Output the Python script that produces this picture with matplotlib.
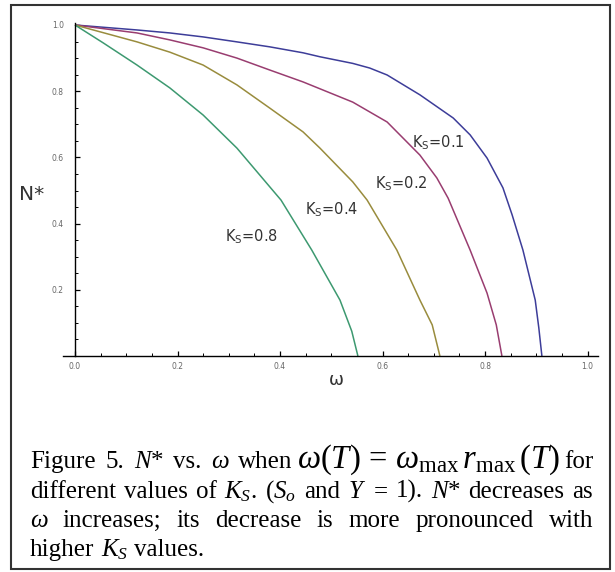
import numpy as np
import matplotlib
matplotlib.use("Agg")
import matplotlib.pyplot as plt
from matplotlib.patches import Rectangle

plt.rcParams['mathtext.fontset'] = 'custom'
plt.rcParams['mathtext.rm'] = 'Liberation Serif'
plt.rcParams['mathtext.it'] = 'Liberation Serif:italic'
plt.rcParams['mathtext.bf'] = 'Liberation Serif:bold'

# curves (omega, N*)
w_01 = [0, 0.121, 0.185, 0.250, 0.316, 0.380, 0.445, 0.478, 0.542, 0.575, 0.609, 0.673, 0.738, 0.771, 0.804, 0.835, 0.853, 0.874, 0.898, 0.905, 0.911]
n_01 = [1, 0.985, 0.976, 0.964, 0.949, 0.934, 0.916, 0.904, 0.884, 0.870, 0.849, 0.789, 0.719, 0.668, 0.598, 0.508, 0.426, 0.320, 0.169, 0.085, 0]

w_02 = [0, 0.121, 0.185, 0.250, 0.316, 0.380, 0.445, 0.542, 0.609, 0.673, 0.706, 0.728, 0.771, 0.804, 0.822, 0.833]
n_02 = [1, 0.976, 0.955, 0.931, 0.900, 0.864, 0.828, 0.767, 0.707, 0.607, 0.538, 0.477, 0.320, 0.190, 0.094, 0]

w_04 = [0, 0.121, 0.185, 0.250, 0.316, 0.380, 0.445, 0.478, 0.542, 0.570, 0.628, 0.673, 0.697, 0.712]
n_04 = [1, 0.949, 0.918, 0.879, 0.819, 0.749, 0.677, 0.628, 0.526, 0.471, 0.320, 0.169, 0.094, 0]

w_08 = [0, 0.055, 0.121, 0.185, 0.250, 0.316, 0.402, 0.462, 0.517, 0.540, 0.552]
n_08 = [1, 0.946, 0.879, 0.810, 0.728, 0.628, 0.471, 0.320, 0.169, 0.075, 0]

curves = [
    (w_01, n_01, (0.24, 0.24, 0.6), "0.1", (0.658, 0.644)),
    (w_02, n_02, (0.6, 0.24, 0.44), "0.2", (0.585, 0.520)),
    (w_04, n_04, (0.6, 0.55, 0.24), "0.4", (0.449, 0.441)),
    (w_08, n_08, (0.24, 0.6, 0.44), "0.8", (0.293, 0.360)),
]

W, H = 615, 572
def fx(px):
    return px / W
def fy(py):
    return 1 - py / H

fig = plt.figure(figsize=(W / 100, H / 100), dpi=100)
fig.patch.set_facecolor("white")

# outer box
fig.add_artist(Rectangle((fx(11), fy(569)), (610 - 11) / W, (569 - 5) / H,
                         transform=fig.transFigure, fill=False, lw=1.5, ec="#333333"))

ax = fig.add_axes([fx(63), fy(356), (598 - 63) / W, 333 / H])
ax.set_xlim(-12 / 512.5, 523 / 512.5)
ax.set_ylim(0, 333 / 331)

for w, n, c, k, pos in curves:
    ax.plot(w, n, color=c, lw=1.1, solid_capstyle="butt")
    ax.text(pos[0], pos[1], r"K$\mathregular{_S}$=" + k, fontsize=10.5, color="#333333",
            ha="left", va="center")

ax.spines["top"].set_visible(False)
ax.spines["right"].set_visible(False)
ax.spines["left"].set_position(("data", 0))
ax.spines["left"].set_linewidth(1.0)
ax.spines["bottom"].set_linewidth(1.0)

ax.set_xticks(np.arange(0, 1.01, 0.2))
ax.set_xticks(np.arange(0, 1.01, 0.05), minor=True)
ax.set_yticks(np.arange(0.2, 1.01, 0.2))
ax.set_yticks(np.arange(0.05, 1.01, 0.05), minor=True)
ax.set_xticklabels(["%.1f" % v for v in np.arange(0, 1.01, 0.2)])
ax.set_yticklabels(["%.1f" % v for v in np.arange(0.2, 1.01, 0.2)])
ax.tick_params(axis="both", which="major", direction="in", length=3.5, width=0.9,
               labelsize=5.5, labelcolor="#666666")
ax.tick_params(axis="both", which="minor", direction="in", length=2, width=0.7)
ax.tick_params(axis="x", pad=4)
ax.tick_params(axis="y", pad=8)

fig.text(fx(32), fy(195), "N*", fontsize=14.5, color="#333333", ha="center", va="center")
fig.text(fx(336), fy(380), "ω", fontsize=13, color="#333333", ha="center", va="center")

# caption, justified like the reference
cap_size = 18
eq = r"$\omega(T)\,=\,\omega_{\mathrm{max}}\,r_{\mathrm{max}}\,(T)$"
cap_lines = [
    [("Figure", "rm"), ("5.", "rm"), ("$N$*", "rm"), ("vs.", "rm"), ("ω", "it"),
     ("when", "rm"), (eq, "eq"), ("for", "rm")],
    [("different", "rm"), ("values", "rm"), ("of", "rm"), ("$K_S$.", "rm"), ("($S_o$", "rm"),
     ("and", "rm"), ("$Y$", "rm"), ("=", "rm"), ("1).", "rm"), ("$N$*", "rm"),
     ("decreases", "rm"), ("as", "rm")],
    [("ω", "it"), ("increases;", "rm"), ("its", "rm"), ("decrease", "rm"), ("is", "rm"),
     ("more", "rm"), ("pronounced", "rm"), ("with", "rm")],
    [("higher", "rm"), ("$K_S$", "rm"), ("values.", "rm")],
]
baselines = [468, 498, 527, 556]
x_left, x_right = 30, 593

renderer = fig.canvas.get_renderer()
for i, (words, yb) in enumerate(zip(cap_lines, baselines)):
    arts = []
    for s, kind in words:
        kw = dict(family="Liberation Serif", fontsize=cap_size, color="black", va="baseline", ha="left")
        if kind == "it":
            kw["style"] = "italic"
        if kind == "eq":
            kw["fontsize"] = 23.5
        arts.append((fig.text(0, fy(yb), s, **kw), kind))
    widths = [a.get_window_extent(renderer).width for a, _ in arts]
    glued = [j > 0 and (arts[j][1] == "eq" or arts[j - 1][1] == "eq") for j in range(len(arts))]
    n_free = sum(1 for j in range(1, len(arts)) if not glued[j])
    fixed = 4 * sum(glued)
    if i < len(cap_lines) - 1:
        gap = (x_right - x_left - sum(widths) - fixed) / n_free
    else:
        gap = 0.25 * cap_size * 100 / 72
    x = x_left
    for j, (a, _) in enumerate(arts):
        if j > 0:
            x += 4 if glued[j] else gap
        a.set_x(fx(x))
        x += widths[j]

fig.savefig("out.png", dpi=100, facecolor="white")
